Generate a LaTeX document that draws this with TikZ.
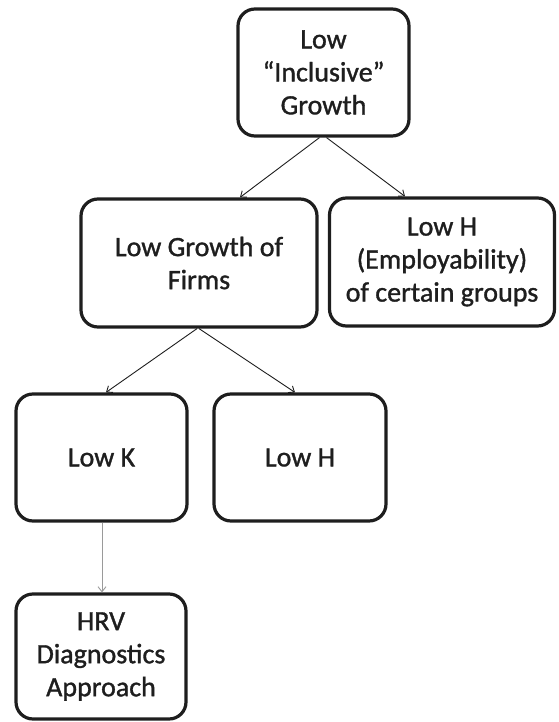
\documentclass[tikz,border=0pt]{standalone}
\usepackage{fontspec}
\setmainfont{Carlito}
\newfontfamily\diagfont[Ligatures=TeX,FakeBold=1.2]{Carlito}
\usetikzlibrary{arrows.meta}
\definecolor{ink}{HTML}{1E1E1E}
\definecolor{grayarr}{HTML}{9A9A9A}
\tikzset{
  box/.style={draw=ink, line width=3.2pt, rounded corners=17pt, align=center,
    text=ink, font=\diagfont\fontsize{28}{33}\selectfont, inner sep=0pt},
  arr/.style={draw=ink, line width=0.9pt, -{Straight Barb[length=5pt,width=8pt]}},
  garr/.style={draw=grayarr, line width=0.9pt, -{Straight Barb[length=5pt,width=8pt]}}
}
\begin{document}
\begin{tikzpicture}[x=1pt,y=-1pt]
\useasboundingbox (0,0) rectangle (558,722);
\node[box, minimum width=171pt, minimum height=127pt] (top) at (323.5,72.5) {Low\\“Inclusive”\\Growth};
\node[box, minimum width=236pt, minimum height=128pt] (ml) at (199,263) {Low Growth of\\Firms};
\node[box, minimum width=225pt, minimum height=128pt] (mr) at (442,262) {Low H\\(Employability)\\of certain groups};
\node[box, minimum width=171pt, minimum height=127pt] (lk) at (101.5,457.5) {Low K};
\node[box, minimum width=172pt, minimum height=127pt] (lh) at (300,457.5) {Low H};
\node[box, minimum width=170pt, minimum height=125pt] (hrv) at (101,656.5) {HRV\\Diagnostics\\Approach};
\draw[arr] ([xshift=-4pt]top.south) -- ([xshift=41pt]ml.north);
\draw[arr] ([xshift=3pt]top.south) -- ([xshift=-37pt]mr.north);
\draw[arr] ([xshift=-2pt]ml.south) -- ([xshift=4.5pt]lk.north);
\draw[arr] ([xshift=0pt]ml.south) -- ([xshift=-5pt]lh.north);
\draw[garr] ([xshift=0.5pt]lk.south) -- ([xshift=1pt]hrv.north);
\end{tikzpicture}
\end{document}
